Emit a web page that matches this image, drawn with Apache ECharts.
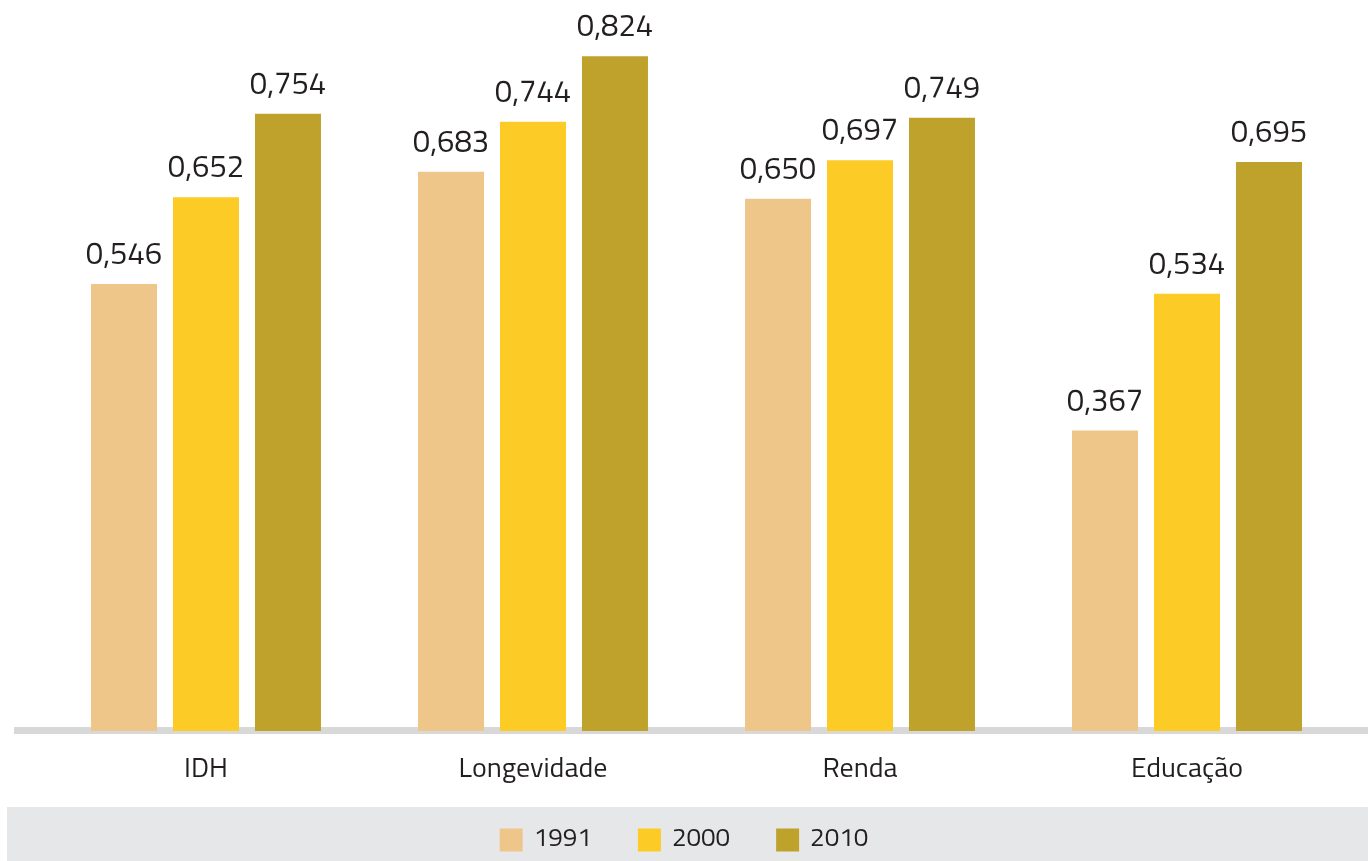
<!DOCTYPE html>
<html>
<head>
<meta charset="utf-8">
<style>
  html, body { margin: 0; padding: 0; background: #ffffff; }
  #chart { width: 1368px; height: 861px; }
</style>
<script src="https://cdn.jsdelivr.net/npm/echarts@6/dist/echarts.min.js"></script>
</head>
<body>
<div id="chart"></div>
<script>
// IDH components by census year
const categories = ['IDH', 'Longevidade', 'Renda', 'Educação'];
const years = ['1991', '2000', '2010'];
const values1991 = [0.546, 0.683, 0.650, 0.367];
const values2000 = [0.652, 0.744, 0.697, 0.534];
const values2010 = [0.754, 0.824, 0.749, 0.695];
const colors = ['#efc68a', '#fccb26', '#bea22c'];

const fontFamily = '"Titillium Web", "Noto Sans", "DejaVu Sans", sans-serif';
const textColor = '#231f20';

const chart = echarts.init(document.getElementById('chart'), null, { renderer: 'canvas' });

const fmt = v => v.toFixed(3).replace('.', ',');

function barSeries(name, data, color) {
  return {
    name: name,
    type: 'bar',
    data: data,
    barWidth: 66,
    barGap: '24.2%',
    z: 3,
    itemStyle: { color: color },
    label: {
      show: true,
      position: 'top',
      distance: 12,
      formatter: p => fmt(p.value),
      fontSize: 31,
      fontFamily: fontFamily,
      color: textColor
    }
  };
}

chart.setOption({
  animation: false,
  backgroundColor: '#ffffff',
  graphic: [
    // legend band
    { type: 'rect', left: 7, top: 807, shape: { width: 1361, height: 54 }, style: { fill: '#e6e7e9' }, z: 0 },
    // baseline strip
    { type: 'rect', left: 14, top: 727, shape: { width: 1354, height: 7 }, style: { fill: '#d8d8d8' }, z: 1 }
  ],
  legend: {
    data: years,
    bottom: 3,
    left: 'center',
    itemWidth: 23,
    itemHeight: 23,
    itemGap: 46,
    icon: 'rect',
    textStyle: { fontSize: 26, fontFamily: fontFamily, color: textColor, padding: [0, 0, 0, 6] }
  },
  grid: { left: 42.5, right: 17.5, top: 40, bottom: 130, containLabel: false },
  xAxis: {
    type: 'category',
    data: categories,
    axisLine: { show: false },
    axisTick: { show: false },
    axisLabel: { fontSize: 28, fontFamily: fontFamily, color: textColor, margin: 25 }
  },
  yAxis: {
    type: 'value',
    min: 0,
    max: 0.844,
    show: false,
    splitLine: { show: false }
  },
  series: [
    barSeries(years[0], values1991, colors[0]),
    barSeries(years[1], values2000, colors[1]),
    barSeries(years[2], values2010, colors[2])
  ]
});
</script>
</body>
</html>
